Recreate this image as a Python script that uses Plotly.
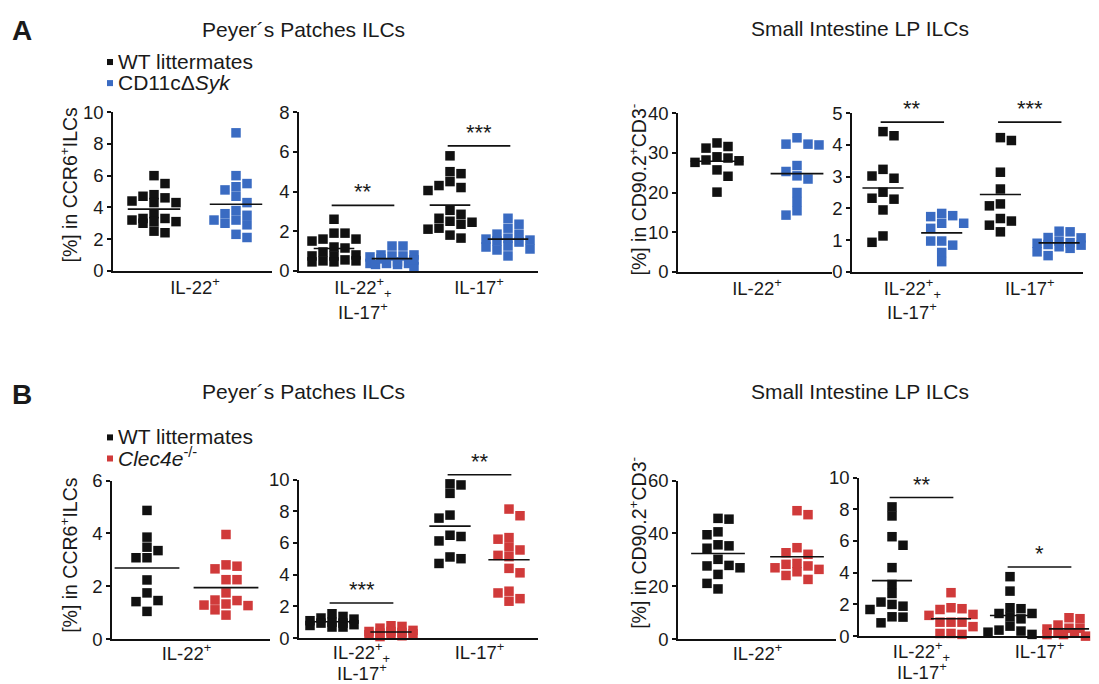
import numpy as np
import plotly.graph_objects as go

# page geometry: body keeps an 8px margin; vertical placement calibrated from previous renders
OFF = 8
FW, FH = 1083, 690
Y_A, Y_S = 10.4, 0.966
FONT = "Liberation Sans, Arial, sans-serif"
TXT = "#1a1a1a"
BLACK = "#111111"
BLUE = "#3a6bc2"
RED = "#d03a3a"

# ---------------- data ----------------
# Panel A: WT littermates vs CD11cΔSyk
A_pp_il22_wt = [6.0, 5.5, 4.7, 4.8, 4.6, 4.4, 4.3, 4.3, 3.6, 3.1, 3.3, 3.2, 3.1, 3.3, 2.4, 2.5, 3.0]
A_pp_il22_ko = [8.7, 6.0, 5.3, 5.5, 4.7, 5.1, 4.3, 3.6, 3.8, 3.5, 3.2, 3.2, 3.0, 2.9, 2.1, 2.3]
A_pp_dp_wt = [2.6, 1.9, 1.6, 1.9, 1.5, 1.6, 1.2, 1.15, 0.95, 0.8, 0.75, 0.75, 0.5, 0.45, 0.5, 0.55, 0.45]
A_pp_dp_ko = [1.25, 1.25, 0.8, 0.75, 0.75, 0.8, 0.7, 0.37, 0.32, 0.37, 0.32, 0.37, 0.45, 0.2, 0.55, 0.6]
A_pp_il17_wt = [5.8, 4.9, 5.0, 4.5, 4.2, 4.3, 4.05, 3.05, 2.85, 2.35, 2.65, 2.45, 2.15, 2.1, 1.8, 1.65, 2.5]
A_pp_il17_ko = [2.65, 2.35, 1.85, 2.15, 1.85, 1.25, 1.1, 1.5, 1.65, 1.45, 0.75, 1.2, 1.05, 1.6, 1.55]
A_si_il22_wt = [31.6, 31.2, 32.5, 28.2, 29.0, 28.7, 28.0, 27.6, 25.7, 24.1, 20.1]
A_si_il22_ko = [32.2, 32.0, 32.2, 33.8, 26.8, 25.3, 23.4, 24.2, 20.0, 17.7, 15.4, 14.3]
A_si_dp_wt = [4.42, 4.29, 3.23, 2.95, 3.02, 2.51, 2.32, 2.29, 1.95, 0.93, 1.13]
A_si_dp_ko = [1.77, 1.74, 1.84, 1.53, 1.53, 1.37, 0.97, 0.84, 0.97, 0.61, 0.32]
A_si_il17_wt = [4.23, 4.14, 3.14, 2.61, 2.08, 2.14, 1.6, 1.68, 1.47, 1.26]
A_si_il17_ko = [1.26, 1.28, 1.07, 1.08, 0.92, 0.86, 0.97, 0.84, 0.74, 0.79, 0.63, 0.51, 0.9]

# Panel B: WT littermates vs Clec4e-/-
B_pp_il22_wt = [4.87, 3.86, 3.48, 3.35, 3.08, 3.08, 2.24, 1.75, 1.46, 1.42, 1.05]
B_pp_il22_ko = [3.96, 2.66, 2.81, 2.76, 2.25, 2.25, 1.75, 1.27, 1.48, 1.33, 1.46, 1.29, 1.11, 0.91]
B_pp_dp_wt = [1.01, 1.27, 1.54, 1.37, 1.2, 0.7, 0.85, 0.95, 0.95, 0.8, 0.7, 1.1]
B_pp_dp_ko = [0.49, 0.78, 0.42, 0.74, 0.63, 0.32, 0.21, 0.1, 0.27, 0.21, 0.42, 0.36, 0.15]
B_pp_il17_wt = [9.66, 9.73, 9.13, 7.76, 7.57, 6.41, 6.49, 6.13, 5.12, 5.01, 4.71]
B_pp_il17_ko = [7.72, 8.14, 6.34, 6.24, 5.75, 5.56, 5.14, 5.22, 4.4, 4.12, 2.33, 2.85, 2.49, 2.96]
B_si_il22_wt = [45.7, 45.4, 40.6, 39.5, 35.7, 35.3, 34.4, 30.2, 27.9, 27.0, 27.7, 24.5, 21.1, 19.0]
B_si_il22_ko = [48.6, 47.1, 34.6, 32.7, 32.1, 28.3, 25.5, 27.0, 27.7, 26.4, 28.7, 24.1, 22.6]
B_si_dp_wt = [8.15, 7.58, 6.27, 5.73, 4.32, 3.26, 2.69, 2.15, 1.89, 2.0, 1.22, 1.2, 0.84, 1.68]
B_si_dp_ko = [2.74, 1.79, 1.68, 1.73, 1.37, 1.31, 0.88, 0.88, 0.88, 0.17, 0.11, 0.17, 0.6]
B_si_il17_wt = [3.75, 2.84, 1.43, 1.73, 1.79, 1.43, 1.09, 1.22, 0.38, 0.32, 0.11, 0.25, 0.63]
B_si_il17_ko = [1.16, 1.1, 0.7, 0.65, 0.5, 0.5, 0.45, 0.2, 0.22, 0.25, 0.1, 0.0, 0.1]

# category labels (double-positive label is split into two lines)
CAT_IL22 = "IL-22<sup>+</sup>"
CAT_DP_1 = "IL-22<sup>+</sup><sub>+</sub>"
CAT_DP_2 = "IL-17<sup>+</sup>"
CAT_IL17 = "IL-17<sup>+</sup>"

# significance: (group a, group b, level, stars)
SIG_A2 = [(0, 1, 3.3, "**"), (2, 3, 6.3, "***")]
SIG_A4 = [(0, 1, 4.72, "**"), (2, 3, 4.72, "***")]
SIG_B2 = [(0, 1, 2.22, "***"), (2, 3, 10.3, "**")]
SIG_B4 = [(0, 1, 8.74, "**"), (2, 3, 4.36, "*")]

YT_CCR6 = "[%] in CCR6<sup>+</sup>ILCs"
YT_CD90 = "[%] in CD90.2<sup>+</sup>CD3<sup>-</sup>"

# ---------------- layout of panels (target pixel geometry) ----------------
panels = [
    dict(xpx=(113, 272), ypx=(269, 111), ymax=10, dtick=2, sp=82, org=154, half=0.32,
         groups=[(A_pp_il22_wt, BLACK, 0), (A_pp_il22_ko, BLUE, 1)],
         cats=[(0.5, CAT_IL22)], line2=[], sig=[], stand=-1),
    dict(xpx=(299, 538), ypx=(269, 111), ymax=8, dtick=2, sp=58, org=334, half=0.35,
         groups=[(A_pp_dp_wt, BLACK, 0), (A_pp_dp_ko, BLUE, 1),
                 (A_pp_il17_wt, BLACK, 2), (A_pp_il17_ko, BLUE, 3)],
         cats=[(0.5, CAT_DP_1), (2.5, CAT_IL17)], line2=[(0.5, CAT_DP_2, 309)], sig=SIG_A2, stand=-1),
    dict(xpx=(678, 832), ypx=(270, 112), ymax=40, dtick=10, sp=80, org=717, half=0.33,
         groups=[(A_si_il22_wt, BLACK, 0), (A_si_il22_ko, BLUE, 1)],
         cats=[(0.5, CAT_IL22)], line2=[], sig=[], stand=-1),
    dict(xpx=(852, 1083), ypx=(270, 112), ymax=5, dtick=1, sp=58.7, org=883, half=0.35,
         groups=[(A_si_dp_wt, BLACK, 0), (A_si_dp_ko, BLUE, 1),
                 (A_si_il17_wt, BLACK, 2), (A_si_il17_ko, BLUE, 3)],
         cats=[(0.5, CAT_DP_1), (2.5, CAT_IL17)], line2=[(0.5, CAT_DP_2, 309)], sig=SIG_A4, stand=-1),
    dict(xpx=(112, 270), ypx=(636, 478), ymax=6, dtick=2, sp=79, org=147, half=0.41,
         groups=[(B_pp_il22_wt, BLACK, 0), (B_pp_il22_ko, RED, 1)],
         cats=[(0.5, CAT_IL22)], line2=[], sig=[], stand=-3),
    dict(xpx=(299, 538), ypx=(635, 477), ymax=10, dtick=2, sp=59, org=332, half=0.35,
         groups=[(B_pp_dp_wt, BLACK, 0), (B_pp_dp_ko, RED, 1),
                 (B_pp_il17_wt, BLACK, 2), (B_pp_il17_ko, RED, 3)],
         cats=[(0.5, CAT_DP_1), (2.5, CAT_IL17)], line2=[(0.5, CAT_DP_2, 669)], sig=SIG_B2, stand=-3),
    dict(xpx=(678, 836), ypx=(636, 478), ymax=60, dtick=20, sp=79, org=718, half=0.34,
         groups=[(B_si_il22_wt, BLACK, 0), (B_si_il22_ko, RED, 1)],
         cats=[(0.5, CAT_IL22)], line2=[], sig=[], stand=-3),
    dict(xpx=(859, 1090), ypx=(633, 475), ymax=10, dtick=2, sp=59, org=892, half=0.34,
         groups=[(B_si_dp_wt, BLACK, 0), (B_si_dp_ko, RED, 1),
                 (B_si_il17_wt, BLACK, 2), (B_si_il17_ko, RED, 3)],
         cats=[(0.5, CAT_DP_1), (2.5, CAT_IL17)], line2=[(0.5, CAT_DP_2, 668)], sig=SIG_B4, stand=-2),
]


def fx(p):
    return (p - OFF) / FW


def fy(p):
    page = (p - Y_A) / Y_S
    return 1 - (page - OFF) / FH


def swarm(vals, ppy, ppx, step=11.0, hgap=9.0, maxw=27.0):
    """Deterministic, compact beeswarm offsets (x data units)."""
    vals = np.asarray(vals, float)
    order = np.argsort(-vals, kind="stable")
    placed = []
    offs = np.zeros(len(vals))
    cands = [0.0]
    j = 1
    while j * step / 2 <= maxw:
        cands += [j * step / 2, -j * step / 2]
        j += 1
    for i in order:
        y = vals[i] * ppy
        bias = sum(p[0] for p in placed)
        if bias > 0:
            key = lambda c: (abs(c), c)
        else:
            key = lambda c: (abs(c), -c)
        best, best_cost = None, None
        for c in sorted(cands, key=key):
            cost = 0.0
            for px_, py_ in placed:
                ox = step * 0.92 - abs(c - px_)
                oy = hgap - abs(y - py_)
                if ox > 0 and oy > 0:
                    cost += ox * oy
            if cost == 0:
                best = c
                break
            if best_cost is None or cost < best_cost - 1e-9:
                best, best_cost = c, cost
        placed.append((best, y))
        offs[i] = best / ppx
    return offs


layout = dict(
    width=FW, height=FH, margin=dict(l=0, r=0, t=0, b=0),
    paper_bgcolor="white", plot_bgcolor="white", showlegend=False,
    font=dict(family=FONT, size=18, color=TXT),
)
traces, shapes, annots = [], [], []
TICKFONT = dict(size=18.5, color=TXT, family=FONT)

for k, P in enumerate(panels, start=1):
    s = "" if k == 1 else str(k)
    xl, xr = P["xpx"]
    yb, yt = P["ypx"]
    sp, org, ymax = P["sp"], P["org"], P["ymax"]
    layout["xaxis" + s] = dict(
        domain=[fx(xl), fx(xr)], range=[(xl - org) / sp, (xr - org) / sp],
        anchor="y" + s, showline=True, linecolor=BLACK, linewidth=1.5,
        ticks="", tickvals=[c[0] for c in P["cats"]], ticktext=[c[1] for c in P["cats"]],
        showgrid=False, zeroline=False, tickfont=TICKFONT, ticklabelstandoff=P["stand"],
    )
    layout["yaxis" + s] = dict(
        domain=[fy(yb), fy(yt)], range=[0, ymax], anchor="x" + s,
        showline=True, linecolor=BLACK, linewidth=1.5,
        ticks="outside", ticklen=4, tickwidth=1.5, tickcolor=BLACK,
        tickvals=list(range(0, ymax + 1, P["dtick"])),
        showgrid=False, zeroline=False, tickfont=TICKFONT,
    )
    for xv, txt, ypix in P["line2"]:
        annots.append(dict(text=txt, x=xv, y=fy(ypix), xref="x" + s, yref="paper",
                           xanchor="center", yanchor="middle", showarrow=False, font=TICKFONT))
    ppy = (yb - yt) / ymax
    for vals, color, pos in P["groups"]:
        offs = swarm(vals, ppy, sp)
        traces.append(go.Scatter(
            x=pos + offs, y=vals, mode="markers",
            marker=dict(symbol="square", size=9.5, color=color, line=dict(width=0)),
            cliponaxis=False, xaxis="x" + s, yaxis="y" + s, hoverinfo="y"))
    for vals, color, pos in P["groups"]:
        m = float(np.mean(vals))
        h = P["half"]
        traces.append(go.Scatter(
            x=[pos - h, pos + h], y=[m, m], mode="lines",
            line=dict(color=BLACK, width=1.6), xaxis="x" + s, yaxis="y" + s,
            hoverinfo="skip"))
    for a, b, level, stars in P["sig"]:
        x0 = org + (a - 0.04) * sp
        x1 = org + (b + 0.04) * sp
        ylev = yb - level * ppy
        shapes.append(dict(type="line", xref="paper", yref="paper",
                           x0=fx(x0), x1=fx(x1), y0=fy(ylev), y1=fy(ylev),
                           line=dict(color=BLACK, width=1.6)))
        annots.append(dict(text=stars, x=fx((x0 + x1) / 2), y=fy(ylev + 1),
                           xref="paper", yref="paper", xanchor="center", yanchor="bottom",
                           showarrow=False, font=dict(size=22, color=TXT, family=FONT)))

# titles / panel letters
for txt, x, y, size, bold in [
    ("A", 22, 30, 28, True), ("B", 22, 392, 28, True),
    ("Peyer´s Patches ILCs", 303, 29, 21, False),
    ("Small Intestine LP ILCs", 860, 28, 21, False),
    ("Peyer´s Patches ILCs", 303, 389, 21, False),
    ("Small Intestine LP ILCs", 860, 389, 21, False),
]:
    annots.append(dict(text=f"<b>{txt}</b>" if bold else txt, x=fx(x), y=fy(y),
                       xref="paper", yref="paper", xanchor="center", yanchor="middle",
                       showarrow=False, font=dict(size=size, color=TXT, family=FONT)))

# y-axis titles
for txt, x, y in [(YT_CCR6, 69, 183), (YT_CD90, 638, 188), (YT_CCR6, 69, 552), (YT_CD90, 638, 540)]:
    annots.append(dict(text=txt, x=fx(x), y=fy(y), xref="paper", yref="paper",
                       xanchor="center", yanchor="middle", textangle=-90, showarrow=False,
                       font=dict(size=19.5, color=TXT, family=FONT)))

# legends
legends = [
    ("WT littermates", BLACK, 61), ("CD11cΔ<i>Syk</i>", BLUE, 82),
    ("WT littermates", BLACK, 435), ("<i>Clec4e</i><sup>-/-</sup>", RED, 456),
]
for txt, col, y in legends:
    shapes.append(dict(type="rect", xref="paper", yref="paper",
                       x0=fx(107), x1=fx(113), y0=fy(y + 3), y1=fy(y - 3),
                       fillcolor=col, line=dict(width=0)))
    annots.append(dict(text=txt, x=fx(116), y=fy(y - 1), xref="paper", yref="paper",
                       xanchor="left", yanchor="middle", showarrow=False,
                       font=dict(size=21, color=TXT, family=FONT)))

layout["shapes"] = shapes
layout["annotations"] = annots

fig = go.Figure(data=traces, layout=layout)
fig.write_html("out.html")
